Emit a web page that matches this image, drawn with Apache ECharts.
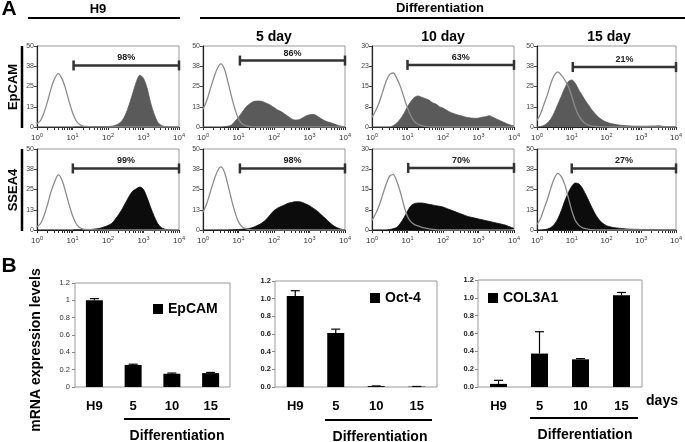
<!DOCTYPE html>
<html>
<head>
<meta charset="utf-8">
<script src="https://cdn.jsdelivr.net/npm/echarts@6/dist/echarts.min.js"></script>
<style>
  html, body { margin: 0; padding: 0; background: #fff; }
  #chart { width: 685px; height: 442px; }
</style>
</head>
<body>
<div id="chart"></div>
<script>
// 直方图横坐标: log10 荧光强度, 每 0.1 个数量级一个点
var bins = [0, 0.1, 0.2, 0.3, 0.4, 0.5, 0.6, 0.7, 0.8, 0.9,
            1, 1.1, 1.2, 1.3, 1.4, 1.5, 1.6, 1.7, 1.8, 1.9,
            2, 2.1, 2.2, 2.3, 2.4, 2.5, 2.6, 2.7, 2.8, 2.9,
            3, 3.1, 3.2, 3.3, 3.4, 3.5, 3.6, 3.7, 3.8, 3.9, 4];

// EpCAM 行 - 对照 (空心灰线)
var epcamCtrlH9  = [2,4,9,16,24,30,33,30,24,16, 9,4,1.5,0.6,0.3,0.2,0.1,0.1,0.1,0, 0,0,0,0,0,0,0,0,0,0, 0,0,0,0,0,0,0,0,0,0, 0];
var epcamCtrlD5  = [11,16,23,30,36,39,36,28,19,11, 5,2,0.8,0.3,0.1,0,0,0,0,0, 0,0,0,0,0,0,0,0,0,0, 0,0,0,0,0,0,0,0,0,0, 0];
var epcamCtrlD10 = [3.5,6,9,13,17,19.5,20,18,15,11, 7,4,2,1,0.5,0.2,0.1,0,0,0, 0,0,0,0,0,0,0,0,0,0, 0,0,0,0,0,0,0,0,0,0, 0];
var epcamCtrlD15 = [4,8,14,20,27,32,34,32,29,25, 19,12,7,4,2,1,0.5,0.3,0.2,0.1, 0.1,0,0,0,0,0,0,0,0,0, 0,0,0,0,0,0,0,0,0,0, 0];
// EpCAM 行 - 染色 (灰色填充)
var epcamH9  = [0,0,0,0,0,0,0,0,0,0, 0,0.1,0.2,0.3,0.3,0.3,0.3,0.3,0.3,0.3, 0.3,0.5,1,2,4,8,14,21,28,32, 30,24,15,8,3,1,0.3,0.1,0,0, 0];
var epcamD5  = [0,0,0,0,0,0,0.2,0.5,1.2,3.5, 6,9,12,14,15.5,16,16,15.5,14.5,13.5, 12,10.5,9.5,8,6.5,5,4.3,4.5,5.5,6.8, 7.5,7.8,7,5.5,4.2,3.2,2.6,1.8,1,0.5, 0.2];
var epcamD10 = [0,0,0,0,0,0,0.5,1.5,3,5, 7.5,9.5,11,11.5,11,10.5,10,9,8.5,7.5, 7,6.2,5.5,5,4.5,4.2,3.8,3.5,3.3,3.2, 3.3,3.6,3.8,4.2,3.6,3,2.4,1.8,1.2,0.7, 0.4];
var epcamD15 = [0,0.3,1,2.5,5,9,14,19,24,28, 29,27,23,19.5,16,13,10,7.5,5.5,4, 3,2.3,1.8,1.4,1.1,0.9,0.7,0.6,0.5,0.5, 0.5,0.5,0.5,0.6,0.6,0.8,0.5,0.3,0.2,0.1, 0];

// SSEA4 行 - 对照
var sseaCtrlH9  = [2,4,9,16,24,30,34,31,24,16, 9,4,1.5,0.6,0.3,0.2,0.1,0.1,0.1,0, 0,0,0,0,0,0,0,0,0,0, 0,0,0,0,0,0,0,0,0,0, 0];
var sseaCtrlD5  = [11,16,23,30,36,39,36,28,19,11, 5,2,0.8,0.3,0.1,0,0,0,0,0, 0,0,0,0,0,0,0,0,0,0, 0,0,0,0,0,0,0,0,0,0, 0];
var sseaCtrlD10 = [3.5,6,9,13,17,20,20.5,18,14,9, 5,3,2,1.5,1,0.7,0.4,0.2,0.1,0, 0,0,0,0,0,0,0,0,0,0, 0,0,0,0,0,0,0,0,0,0, 0];
var sseaCtrlD15 = [3.5,7,13,19,26,32,35,33,28,20, 12,6,3,1.5,0.8,0.4,0.2,0.1,0,0, 0,0,0,0,0,0,0,0,0,0, 0,0,0,0,0,0,0,0,0,0, 0];
// SSEA4 行 - 染色 (黑色填充)
var sseaH9  = [0,0,0,0,0,0,0,0,0,0, 0,0.1,0.2,0.2,0.3,0.3,0.5,0.8,1.2,2, 2.8,4,6.5,9.5,13,17,21,24,25.5,26.5, 25,20,14,8.5,4,1.5,0.5,0.2,0,0, 0];
var sseaD5  = [0,0,0,0,0,0,0,0,0.1,0.2, 0.3,0.5,0.8,1,1.5,2.5,3.5,5,7,9.5, 12,13.5,14.5,15.5,16.5,17,17.5,17.5,17,16, 15,13.5,12,10,8,6,4,2.3,1.2,0.5, 0.2];
var sseaD10 = [0,0,0,0,0,0.2,0.5,1,2.5,4.5, 7,9,9.8,10,10,9.8,9.5,9.3,9,8.8, 8.5,8,7.5,7,6.5,6,5.5,5,4.7,4.4, 4.1,3.8,3.5,3.2,2.9,2.6,2.3,2,1.6,1.1, 0.6];
var sseaD15 = [0,0,0.2,0.6,1.5,3.5,7,12,18,23, 27,29,28.5,26,22,17.5,13,9,6,4, 2.7,2,1.5,1.2,1,0.8,0.6,0.5,0.4,0.4, 0.3,0.3,0.3,0.3,0.2,0.2,0.2,0.1,0.1,0.1, 0];

// 每个小图的纵轴上限, 门 (gate) 起点/高度/百分比
var histMax    = [50, 50, 30, 50, 50, 50, 30, 50];
var gateStart  = [1.03, 1.04, 1.0, 1.03, 1.01, 1.04, 1.02, 1.0];
var gateLevel  = [38, 41, 23, 37, 38, 38, 23, 38];
var gateLabels = ['98%', '86%', '63%', '21%', '99%', '98%', '70%', '27%'];
var histTicks  = [0, 1, 2, 3, 4];

// 柱状图 mRNA
var barCats    = ['H9', '5', '10', '15'];
var epcamMean  = [1.0, 0.255, 0.153, 0.16];
var epcamErr   = [0.02, 0.008, 0.008, 0.008];
var oct4Mean   = [1.03, 0.61, 0.01, 0.004];
var oct4Err    = [0.06, 0.045, 0.002, 0.002];
var col3a1Mean = [0.035, 0.375, 0.31, 1.03];
var col3a1Err  = [0.04, 0.245, 0.008, 0.03];

var FONT = 'Liberation Sans, Arial, sans-serif';

var ctrlList = [epcamCtrlH9, epcamCtrlD5, epcamCtrlD10, epcamCtrlD15, sseaCtrlH9, sseaCtrlD5, sseaCtrlD10, sseaCtrlD15];
var fillList = [epcamH9, epcamD5, epcamD10, epcamD15, sseaH9, sseaD5, sseaD10, sseaD15];
var colLeft = [37, 203, 372, 537];
var rowTop = [46, 149];

// 对数坐标刻度 (大刻度 + 2..9 小刻度)
var logTicks = histTicks.slice();
for (var k = 0; k < 4; k++) {
    for (var n = 2; n < 10; n++) logTicks.push(k + Math.log10(n));
}

var grids = [], xAxes = [], yAxes = [], series = [];

function pairs(arr) {
    return bins.map(function (b, j) { return [b, arr[j]]; });
}

for (var i = 0; i < 8; i++) {
    grids.push({
        left: colLeft[i % 4], top: rowTop[Math.floor(i / 4)], width: 142, height: 81,
        show: true, borderColor: '#999', borderWidth: 1
    });
    xAxes.push({
        type: 'value', gridIndex: i, min: 0, max: 4, interval: 1, position: 'bottom',
        axisLine: { lineStyle: { color: '#222', width: 1.2 } },
        axisTick: { length: 3, customValues: logTicks, lineStyle: { color: '#333' } },
        splitLine: { show: false },
        axisLabel: {
            margin: 5,
            customValues: histTicks,
            formatter: function (v) { return '{a|10}{b|' + v + '}'; },
            rich: {
                a: { fontSize: 8, fontFamily: FONT, color: '#333' },
                b: { fontSize: 5.5, fontFamily: FONT, color: '#333', verticalAlign: 'top', padding: [0, 0, 5, 0] }
            }
        }
    });
    var m = histMax[i];
    yAxes.push({
        type: 'value', gridIndex: i, min: 0, max: m, interval: m / 4,
        axisLine: { show: true, lineStyle: { color: '#222', width: 1.2 } },
        axisTick: { show: true, length: 3, lineStyle: { color: '#444' } },
        splitLine: { show: false },
        axisLabel: {
            margin: 3, fontSize: 7, fontFamily: FONT, color: '#444',
            formatter: function (v) { return String(Math.round(v)); }
        }
    });
    var fillColor = i < 4 ? '#5a5a5a' : '#0c0c0c';
    series.push({
        type: 'line', xAxisIndex: i, yAxisIndex: i, data: pairs(fillList[i]),
        symbol: 'none', smooth: 0.3,
        lineStyle: { color: fillColor, width: 0.8 },
        areaStyle: { color: fillColor, opacity: 1 }, z: 2
    });
    series.push({
        type: 'line', xAxisIndex: i, yAxisIndex: i, data: pairs(ctrlList[i]),
        symbol: 'none', smooth: 0.3,
        lineStyle: { color: '#8c8c8c', width: 1.3 }, z: 3
    });
    series.push({
        type: 'custom', xAxisIndex: i, yAxisIndex: i,
        data: [[gateStart[i], gateLevel[i], 4]], z: 4,
        renderItem: (function (label) {
            return function (params, api) {
                var a = api.coord([api.value(0), api.value(1)]);
                var b = api.coord([api.value(2), api.value(1)]);
                var st = { stroke: '#333', lineWidth: 2.5 };
                return {
                    type: 'group',
                    children: [
                        { type: 'line', shape: { x1: a[0], y1: a[1], x2: b[0], y2: b[1] }, style: st },
                        { type: 'line', shape: { x1: a[0], y1: a[1] - 5, x2: a[0], y2: a[1] + 5 }, style: st },
                        { type: 'line', shape: { x1: b[0], y1: b[1] - 5, x2: b[0], y2: b[1] + 5 }, style: st },
                        { type: 'text', x: (a[0] + b[0]) / 2, y: a[1] - 3,
                          style: { text: label, fontSize: 9, fontWeight: 'bold', fontFamily: FONT,
                                   fill: '#222', align: 'center', verticalAlign: 'bottom' } }
                    ]
                };
            };
        })(gateLabels[i])
    });
}

// 柱状图
var barGrids = [
    { left: 75, top: 283, width: 155, height: 104 },
    { left: 275, top: 281, width: 162, height: 106 },
    { left: 478, top: 280, width: 164, height: 107 }
];
var barNames = ['EpCAM', 'Oct-4', 'COL3A1'];
var barMeans = [epcamMean, oct4Mean, col3a1Mean];
var barErrs = [epcamErr, oct4Err, col3a1Err];

for (var c = 0; c < 3; c++) {
    var gi = 8 + c;
    grids.push(Object.assign({ show: true, borderColor: '#999', borderWidth: 1 }, barGrids[c]));
    xAxes.push({
        type: 'category', gridIndex: gi, data: barCats,
        axisLine: { show: false }, axisTick: { show: false },
        axisLabel: { margin: 13, fontSize: 13, fontWeight: 'bold', fontFamily: FONT, color: '#000' }
    });
    yAxes.push({
        type: 'value', gridIndex: gi, min: 0, max: 1.2, interval: 0.2,
        axisLine: { show: false },
        axisTick: { show: true, length: 3, lineStyle: { color: '#888' } },
        splitLine: { show: false },
        axisLabel: c === 0 ? {
            margin: 5, fontSize: 7.5, fontFamily: FONT, color: '#333'
        } : {
            margin: 4, fontSize: 7.5, fontWeight: 'bold', fontFamily: FONT, color: '#222',
            formatter: function (v) { return v.toFixed(1); }
        }
    });
    series.push({
        name: barNames[c], type: 'bar', xAxisIndex: gi, yAxisIndex: gi,
        data: barMeans[c], barWidth: 17, itemStyle: { color: '#000' }
    });
    series.push({
        type: 'custom', xAxisIndex: gi, yAxisIndex: gi, z: 5,
        data: barMeans[c].map(function (v, j) { return [j, v, barErrs[c][j]]; }),
        renderItem: function (params, api) {
            var top = api.coord([api.value(0), api.value(1) + api.value(2)]);
            var base = api.coord([api.value(0), api.value(1)]);
            var st = { stroke: '#000', lineWidth: 1.2 };
            return {
                type: 'group',
                children: [
                    { type: 'line', shape: { x1: base[0], y1: base[1], x2: top[0], y2: top[1] }, style: st },
                    { type: 'line', shape: { x1: top[0] - 4.5, y1: top[1], x2: top[0] + 4.5, y2: top[1] }, style: st }
                ]
            };
        }
    });
}

function txt(x, y, s, size, rot) {
    return {
        type: 'text', x: x, y: y, rotation: rot || 0,
        style: { text: s, fontSize: size, fontWeight: 'bold', fontFamily: FONT, fill: '#000',
                 align: 'center', verticalAlign: 'middle' }
    };
}
function ln(x1, y1, x2, y2, w) {
    return { type: 'line', shape: { x1: x1, y1: y1, x2: x2, y2: y2 }, style: { stroke: '#000', lineWidth: w || 2 } };
}

var graphics = [
    txt(9, 9, 'A', 21), txt(9, 266, 'B', 21),
    txt(98, 9, 'H9', 13), ln(28, 18, 180, 18),
    txt(440, 8, 'Differentiation', 13), ln(200, 18, 685, 18),
    txt(274, 37, '5 day', 14), txt(443, 37, '10 day', 14), txt(609, 37, '15 day', 14),
    txt(13, 87, 'EpCAM', 13, Math.PI / 2), ln(22, 46, 22, 128, 2.5),
    txt(13, 190, 'SSEA4', 13, Math.PI / 2), ln(22, 149, 22, 231, 2.5),
    txt(36, 350, 'mRNA expression levels', 14, Math.PI / 2),
    ln(124, 419, 230, 419), txt(177, 436, 'Differentiation', 14),
    ln(325, 420, 432, 420), txt(380, 437, 'Differentiation', 14),
    ln(530, 418, 638, 418), txt(585, 435, 'Differentiation', 14),
    txt(662, 401, 'days', 14)
];

var legends = [
    { left: 153, top: 302 }, { left: 370, top: 291 }, { left: 488, top: 291 }
].map(function (p, c) {
    return {
        data: [barNames[c]], left: p.left, top: p.top, padding: 0, selectedMode: false,
        icon: 'rect', itemWidth: 10, itemHeight: 10, itemGap: 0,
        textStyle: { fontSize: 14, fontWeight: 'bold', fontFamily: FONT, color: '#000' }
    };
});

var chart = echarts.init(document.getElementById('chart'));
chart.setOption({
    animation: false,
    backgroundColor: '#fff',
    grid: grids,
    xAxis: xAxes,
    yAxis: yAxes,
    legend: legends,
    graphic: graphics,
    series: series
});
</script>
</body>
</html>
